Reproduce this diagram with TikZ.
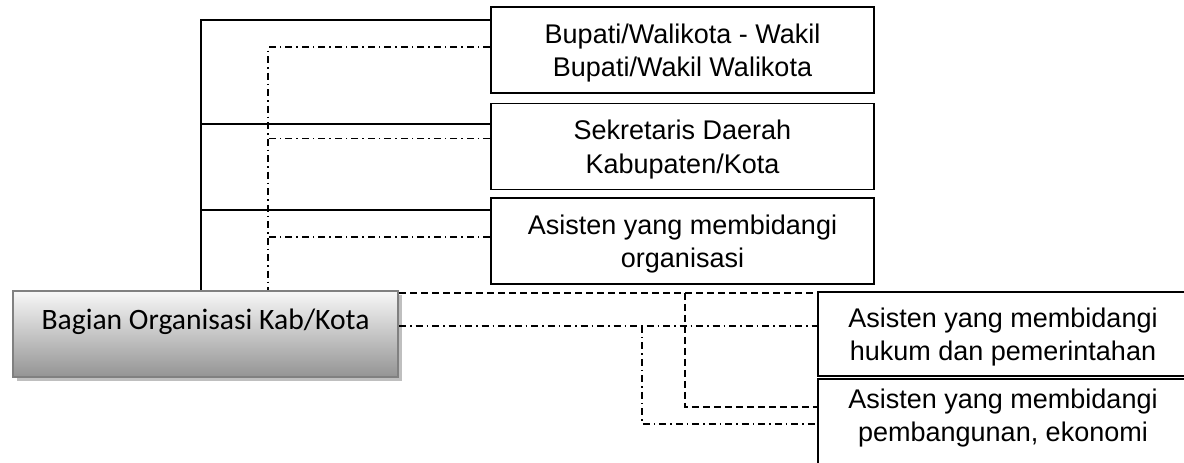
\documentclass[tikz,border=0pt]{standalone}
\usepackage{fontspec}
\setmainfont{Liberation Sans}
\newfontfamily\calibri{Carlito}
\usetikzlibrary{calc,shadows}

\begin{document}
\begin{tikzpicture}[x=1pt,y=-1pt,
  unitbox/.style={draw=black,line width=1.8pt,fill=white,inner sep=0pt,
    align=center,text depth=0pt,font=\fontsize{27}{33.5}\selectfont},
  topbox/.style={unitbox,minimum width=383pt,minimum height=86pt},
  sidebox/.style={unitbox,minimum width=370pt,minimum height=84pt},
  solidln/.style={line width=1.5pt},
  dashln/.style={line width=1.5pt,dash pattern=on 7pt off 4pt},
  dotdashln/.style={line width=1.5pt,dash pattern=on 7pt off 4pt on 1.5pt off 4pt},
]
\useasboundingbox (0,0) rectangle (1184,463);
\clip (0,0) rectangle (1184,463);

% the unit and the offices it reports to
\node[draw=black!50,line width=2.2pt,minimum width=385pt,minimum height=86pt,
  inner sep=0pt,top color=black!3,middle color=black!17,bottom color=black!42,
  drop shadow={shadow xshift=4pt,shadow yshift=-4pt,fill=black!25,opacity=1}]
  (bag) at (205.5,334) {};
\node[anchor=base,inner sep=0pt,font=\calibri\fontsize{29.6}{34}\selectfont]
  (bagt) at (205.5,329) {Bagian Organisasi Kab/Kota};

\node[topbox] (b1) at (682.5,50) {Bupati/Walikota - Wakil\\Bupati/Wakil Walikota};
\node[topbox] (b2) at (682.5,146.5) {Sekretaris Daerah\\Kabupaten/Kota};
\node[topbox] (b3) at (682.5,241) {Asisten yang membidangi\\organisasi};
\node[sidebox] (b4) at (1003,334) {Asisten yang membidangi\\hukum dan pemerintahan};
\node[sidebox,minimum height=110pt] (b5) at (1003,434) {};
\node[inner sep=0pt,align=center,text depth=0pt,font=\fontsize{27}{33.5}\selectfont]
  (b5t) at (1003,415) {Asisten yang membidangi\\pembangunan, ekonomi};

% bus columns and connection points
\coordinate (sx) at (201,0);
\coordinate (dx) at (268,0);
\coordinate (ex) at (685,0);
\coordinate (fx) at (642,0);

\coordinate (b1s) at ($(b1.north west)+(0,14)$);
\coordinate (b1d) at ($(b1.north west)+(0,41)$);
\coordinate (b2s) at ($(b2.north west)+(0,21.5)$);
\coordinate (b2d) at ($(b2.north west)+(0,36)$);
\coordinate (b3s) at ($(b3.north west)+(0,13)$);
\coordinate (b3d) at ($(b3.north west)+(0,40)$);
\coordinate (bD) at ($(bag.north east)+(0,3)$);
\coordinate (bC) at ($(bag.north east)+(0,36)$);
\coordinate (b5D) at ($(b5.north west)+(0,29)$);
\coordinate (b5C) at ($(b5.north west)+(0,46)$);

% solid lines
\draw[solidln] (b1s) -| (sx |- bag.north);
\draw[solidln] (b2s) -- (b2s -| sx);
\draw[solidln] (b3s) -- (b3s -| sx);

% dash-dot lines to the upper offices
\draw[dotdashln] (b1d) -| (dx |- bag.north);
\draw[dotdashln] (b2d) -- (b2d -| dx);
\draw[dotdashln] (b3d) -- (b3d -| dx);

% lines to the assistants on the right
\draw[dashln] (bD) -- (bD -| b4.west);
\draw[dashln] (bD -| ex) |- (b5D);
\draw[dotdashln] (bC) -- (bC -| b4.west);
\draw[dotdashln] (bC -| fx) |- (b5C);
\end{tikzpicture}
\end{document}
